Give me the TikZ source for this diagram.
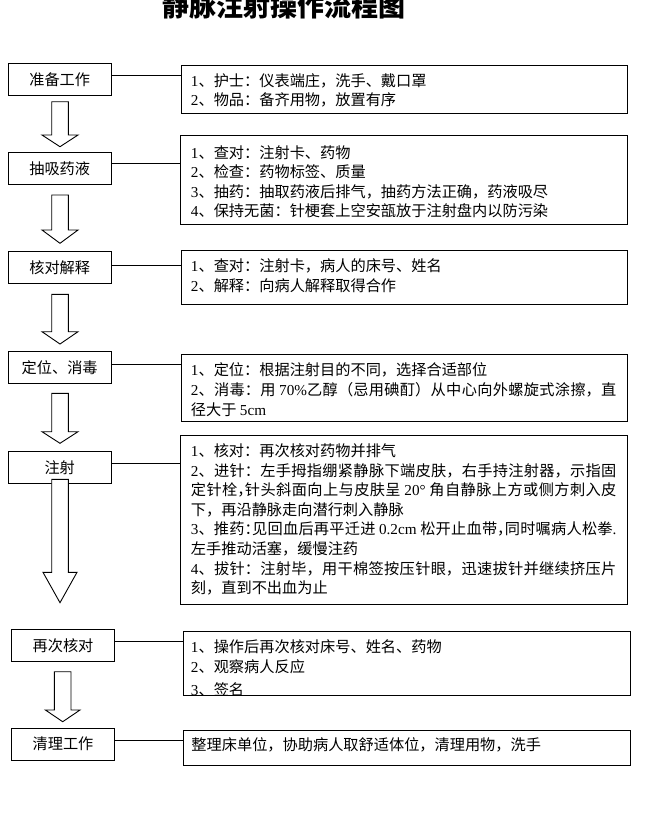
\documentclass[tikz,border=0pt]{standalone}
\usepackage{fontspec}
\setmainfont{Liberation Serif}
\newfontfamily\cjk{Noto Sans CJK SC}
\XeTeXlinebreaklocale "zh"
\XeTeXlinebreakskip=0pt plus 2pt
\usetikzlibrary{fit}
\newcommand\Lt[1]{{\rmfamily #1}}
\newcommand\hp[1]{\makebox[0.5em][l]{#1}}
\newcommand\jl[1]{\parbox[t]{425.5pt}{\tolerance=10000\hbadness=10000\parfillskip=0pt\relax #1}}
\newcommand\blockarrow[5]{%
  \draw[blk] (#1-8.3,#2) -- (#1-8.3,#3) -- (#1-#5,#3) -- (#1,#4) -- (#1+#5,#3) -- (#1+8.3,#3) -- (#1+8.3,#2) -- cycle;}
\begin{document}
\begin{tikzpicture}[x=1pt,y=-1pt,line width=0.9pt,
  stepbox/.style={draw,minimum width=102.7pt,minimum height=32pt,inner sep=0pt,
    font=\cjk\fontsize{15.2}{18}\selectfont},
  detbox/.style={draw,inner sep=0pt},
  txt/.style={anchor=base west,inner sep=0pt,font=\cjk\fontsize{15.2}{18}\selectfont},
  link/.style={draw},
  blk/.style={draw,fill=white,line join=miter}]
\useasboundingbox (0,0) rectangle (657,820);
\fill[white] (0,0) rectangle (657,820);

\node[anchor=base,inner sep=0pt,font=\cjk\bfseries\fontsize{27}{27}\selectfont] (title) at (283.5,16) {静脉注射操作流程图};

% step boxes
\node[stepbox] (s1) at (59.7,79.4) {准备工作};
\node[stepbox] (s2) at (59.7,168.4) {抽吸药液};
\node[stepbox] (s3) at (59.7,267.5) {核对解释};
\node[stepbox] (s4) at (59.7,367.2) {定位、消毒};
\node[stepbox] (s5) at (59.7,467.2) {注射};
\node[stepbox] (s6) at (63,645.6) {再次核对};
\node[stepbox] (s7) at (63,744.2) {清理工作};

% detail boxes
\node[detbox,fit={(181,65.3) (627,113.3)}] (d1) {};
\node[detbox,fit={(180.7,135) (627,224)}] (d2) {};
\node[detbox,fit={(181,250.5) (627,304)}] (d3) {};
\node[detbox,fit={(181,354.3) (627,421.3)}] (d4) {};
\node[detbox,fit={(180.5,435.7) (627.3,604)}] (d5) {};
\node[detbox,fit={(183.4,631.7) (630.5,695)}] (d6) {};
\node[detbox,fit={(183.4,730.7) (630.5,765)}] (d7) {};

% connectors
\draw[link] ([yshift=4pt]s1.east) -- ([yshift=4pt]s1.east -| d1.west);
\draw[link] ([yshift=5pt]s2.east) -- ([yshift=5pt]s2.east -| d2.west);
\draw[link] ([yshift=2.5pt]s3.east) -- ([yshift=2.5pt]s3.east -| d3.west);
\draw[link] ([yshift=3pt]s4.east) -- ([yshift=3pt]s4.east -| d4.west);
\draw[link] ([yshift=4pt]s5.east) -- ([yshift=4pt]s5.east -| d5.west);
\draw[link] ([yshift=4pt]s6.east) -- ([yshift=4pt]s6.east -| d6.west);
\draw[link] ([yshift=4pt]s7.east) -- ([yshift=4pt]s7.east -| d7.west);

% block arrows
\blockarrow{60}{101.7}{135}{146.7}{18}
\blockarrow{60}{195}{230}{243.3}{18}
\blockarrow{60}{294.3}{331.7}{344}{18}
\blockarrow{60}{393.3}{431.7}{443.3}{18}
\blockarrow{60}{479.3}{572.3}{602.7}{17}
\blockarrow{62.7}{671.7}{710}{721.7}{17.3}

% texts
\node[txt] (t1a) at (190.5,86.5) {\Lt{1}、护士：仪表端庄，洗手、戴口罩};
\node[txt] (t1b) at (190.5,105.5) {\Lt{2}、物品：备齐用物，放置有序};

\node[txt] (t2a) at (190.5,158.5) {\Lt{1}、查对：注射卡、药物};
\node[txt] (t2b) at (190.5,177.9) {\Lt{2}、检查：药物标签、质量};
\node[txt] (t2c) at (190.5,197.3) {\Lt{3}、抽药：抽取药液后排气，抽药方法正确，药液吸尽};
\node[txt] (t2d) at (190.5,216.7) {\Lt{4}、保持无菌：针梗套上空安瓿放于注射盘内以防污染};

\node[txt] (t3a) at (190.5,271.5) {\Lt{1}、查对：注射卡，病人的床号、姓名};
\node[txt] (t3b) at (190.5,291.2) {\Lt{2}、解释：向病人解释取得合作};

\node[txt] (t4a) at (190.5,375.5) {\Lt{1}、定位：根据注射目的不同，选择合适部位};
\node[txt] (t4b) at (190.5,395.5) {\jl{\Lt{2}、消毒：用 \Lt{70\%}乙醇（忌用碘酊）从中心向外螺旋式涂擦，直}};
\node[txt] (t4c) at (190.5,415.5) {径大于 \Lt{5cm}};

\node[txt] (t5a) at (190.5,456.5) {\Lt{1}、核对：再次核对药物并排气};
\node[txt] (t5b) at (190.5,476.1) {\jl{\Lt{2}、进针：左手拇指绷紧静脉下端皮肤，右手持注射器，示指固}};
\node[txt] (t5c) at (190.5,495.7) {\jl{定针栓\hp{，}针头斜面向上与皮肤呈 \Lt{20°} 角自静脉上方或侧方刺入皮}};
\node[txt] (t5d) at (190.5,515.3) {下，再沿静脉走向潜行刺入静脉};
\node[txt] (t5e) at (190.5,534.9) {\jl{\Lt{3}、推药\hp{：}见回血后再平迁进 \Lt{0.2cm} 松开止血带\hp{，}同时嘱病人松拳\Lt{.}}};
\node[txt] (t5f) at (190.5,554.5) {左手推动活塞，缓慢注药};
\node[txt] (t5g) at (190.5,574.1) {\jl{\Lt{4}、拔针：注射毕，用干棉签按压针眼，迅速拔针并继续挤压片}};
\node[txt] (t5h) at (190.5,593.7) {刻，直到不出血为止};

\node[txt] (t6a) at (190.5,652.2) {\Lt{1}、操作后再次核对床号、姓名、药物};
\node[txt] (t6b) at (190.5,672.2) {\Lt{2}、观察病人反应};
\begin{scope}
  \clip (d6.south west) rectangle (d6.north east);
  \node[txt] (t6c) at (190.5,695.5) {\Lt{3}、签名};
\end{scope}

\node[txt] (t7a) at (191,750.5) {整理床单位，协助病人取舒适体位，清理用物，洗手};
\end{tikzpicture}
\end{document}
